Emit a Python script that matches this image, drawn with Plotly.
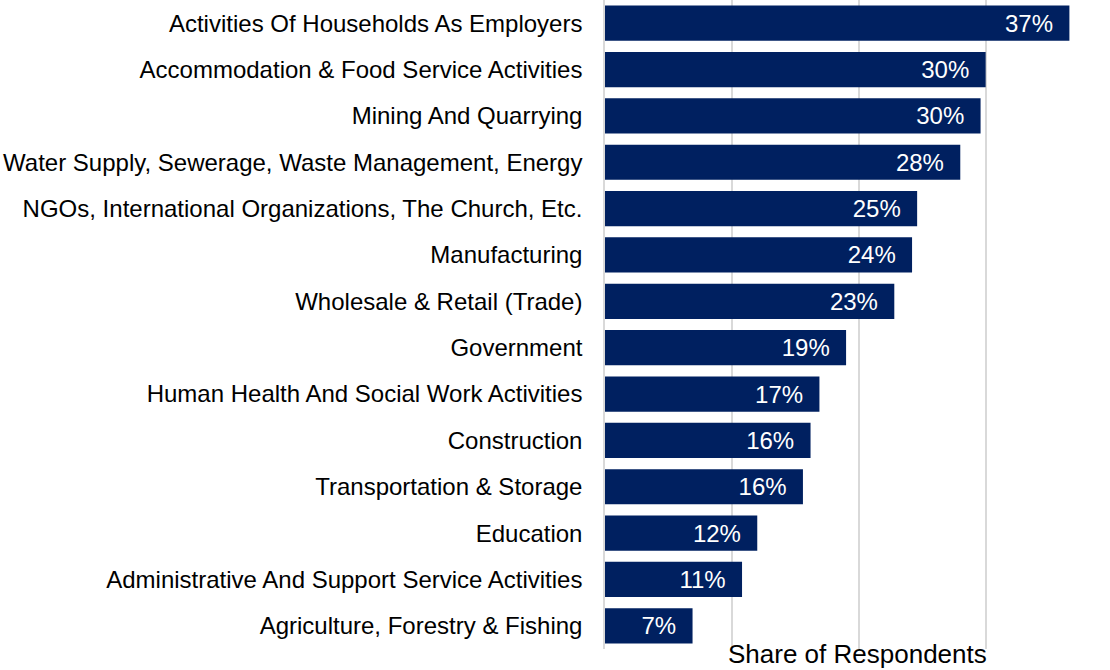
import plotly.graph_objects as go

# Sectors, top to bottom
sectors = [
    "Activities Of Households As Employers",
    "Accommodation & Food Service Activities",
    "Mining And Quarrying",
    "Water Supply, Sewerage, Waste Management, Energy",
    "NGOs, International Organizations, The Church, Etc.",
    "Manufacturing",
    "Wholesale & Retail (Trade)",
    "Government",
    "Human Health And Social Work Activities",
    "Construction",
    "Transportation & Storage",
    "Education",
    "Administrative And Support Service Activities",
    "Agriculture, Forestry & Fishing",
]
# Share of respondents (%)
share = [36.6, 30.0, 29.6, 28.0, 24.6, 24.2, 22.8, 19.0, 16.9, 16.2, 15.6, 12.0, 10.8, 6.9]

NAVY = "#002060"
FONT = "Liberation Sans, Arial, sans-serif"

fig = go.Figure(
    go.Bar(
        x=share,
        y=sectors,
        orientation="h",
        marker=dict(color=NAVY, line=dict(width=0)),
        texttemplate="%{x:.0f}%\u00a0\u00a0",
        textposition="inside",
        insidetextanchor="end",
        textfont=dict(color="white", size=24, family=FONT),
        cliponaxis=False,
        hoverinfo="skip",
    )
)

fig.update_layout(
    width=1110,
    height=670,
    margin=dict(l=605, r=0, t=0, b=21),
    plot_bgcolor="white",
    paper_bgcolor="white",
    bargap=0.24,
    showlegend=False,
    font=dict(family=FONT, size=24, color="black"),
    uniformtext=dict(mode=False),
)

fig.update_xaxes(
    range=[0, 39.8],
    dtick=10,
    showticklabels=False,
    showgrid=True,
    gridcolor="#d9d9d9",
    gridwidth=1.5,
    zeroline=False,
    showline=False,
)

fig.update_yaxes(
    categoryorder="array",
    categoryarray=sectors[::-1],
    showgrid=False,
    showline=True,
    linecolor="#d9d9d9",
    linewidth=1.5,
    ticks="",
    ticklabelstandoff=16,
    tickfont=dict(size=24, color="black", family=FONT),
)

fig.add_annotation(
    text="Share of Respondents",
    xref="paper",
    yref="paper",
    x=0.5,
    y=0,
    xanchor="center",
    yanchor="top",
    yshift=12,
    showarrow=False,
    font=dict(size=26, color="black", family=FONT),
)

fig.write_html("out.html")
